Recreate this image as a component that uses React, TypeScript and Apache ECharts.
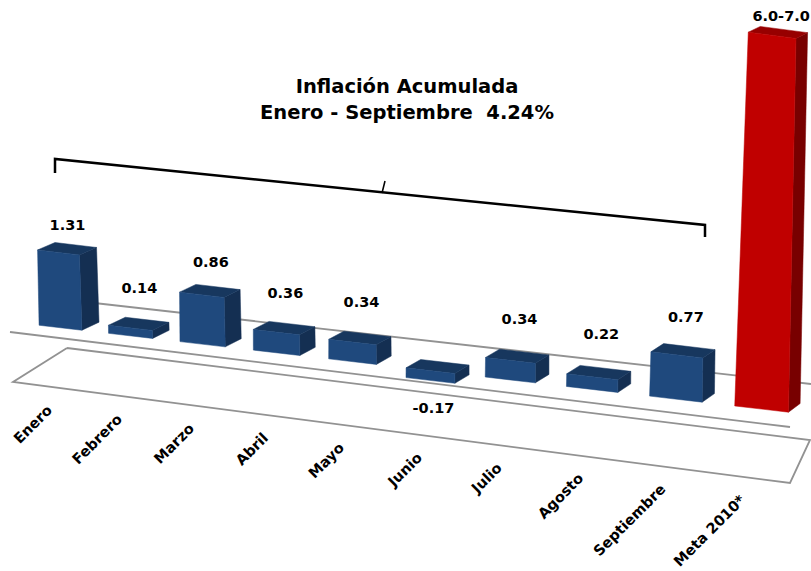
import React, { useEffect, useRef } from "react";
import * as echarts from "echarts";

// ---------- data ----------
const categories = [
  "Enero", "Febrero", "Marzo", "Abril", "Mayo",
  "Junio", "Julio", "Agosto", "Septiembre", "Meta 2010*",
];
const monthlyInflation = [1.31, 0.14, 0.86, 0.36, 0.34, -0.17, 0.34, 0.22, 0.77];
const targetRange = [6.0, 7.0];
const targetBarValue = 6.5; // bar height drawn for the target range
const barValues = [...monthlyInflation, targetBarValue];
const valueLabels = [
  ...monthlyInflation.map((v) => v.toFixed(2)),
  `${targetRange[0].toFixed(1)}-${targetRange[1].toFixed(1)}`,
];
const titleLines = ["Inflación Acumulada", "Enero - Septiembre  4.24%"];

// ---------- pseudo-3D projection settings ----------
const SKEW = 0.116;          // floor tilt
const CURVE = 79.2;          // perspective spacing curve
const VP = [2300, -715];     // depth vanishing point
const DEPTH = 0.0077;        // bar depth
const LEAN_X = 400;
const LEAN = 7.8e-5;
const TOP_SHRINK = 0.0003;
const WIDTH_RATIO = 0.62;

const FONT = '"DejaVu Sans", Verdana, sans-serif';
const BLUE = { front: "#1f497d", top: "#17375e", side: "#142f52" };
const RED = { front: "#c00000", top: "#970000", side: "#780000" };
const FLOOR = "#929292";

function renderItem(params: any, api: any) {
  const i = api.value(0);
  const v = api.value(1);
  const n = categories.length;
  const xA = api.coord([0, 0])[0];
  const xB = api.coord([n - 1, 0])[0];
  const span = xB - xA;
  const p0 = api.coord([i, 0]);
  const xl = p0[0];
  const y0l = p0[1];
  const yvl = api.coord([i, v])[1];
  const u = (xl - xA) / span;
  const xc = xl + CURVE * u * (u - 1);
  const band = api.size([1, 0])[0];
  const w = band * (1 + (CURVE * (2 * u - 1)) / span) * WIDTH_RATIO;
  const up = Math.min(y0l, yvl);
  const lo = Math.max(y0l, yvl);
  const h = lo - up;
  const sk = (x: number) => SKEW * (x - xA);
  const xL = xc - w / 2;
  const xR = xc + w / 2;
  const s = (xc - LEAN_X) * LEAN * h;
  const tw = w * (1 - TOP_SHRINK * h);
  const fbl = [xL, lo + sk(xL)];
  const fbr = [xR, lo + sk(xR)];
  const ftl = [xc + s - tw / 2, up + sk(xL)];
  const ftr = [xc + s + tw / 2, up + sk(xR)];
  const back = (p: number[]) => [
    p[0] + DEPTH * (VP[0] - p[0]),
    p[1] + DEPTH * (VP[1] - p[1]),
  ];
  const pal = i === n - 1 ? RED : BLUE;
  const zeroY = y0l + sk(xc);

  let lx: number, ly: number;
  if (v >= 0) {
    lx = xc + s + 9;
    ly = Math.min(zeroY - 41 - 0.82 * h - 0.008 * (xc - xA), up + sk(xc) - 19);
  } else {
    lx = xc + 3;
    ly = lo + sk(xc) + 28;
  }

  return {
    type: "group",
    children: [
      {
        type: "polygon",
        shape: { points: [ftr, fbr, back(fbr), back(ftr)] },
        style: { fill: pal.side, stroke: pal.side, lineWidth: 0.5 },
      },
      {
        type: "polygon",
        shape: { points: [ftl, ftr, back(ftr), back(ftl)] },
        style: { fill: pal.top, stroke: pal.top, lineWidth: 0.5 },
      },
      {
        type: "polygon",
        shape: { points: [fbl, fbr, ftr, ftl] },
        style: { fill: pal.front, stroke: pal.front, lineWidth: 0.5 },
      },
      {
        type: "text",
        x: lx,
        y: ly,
        style: {
          text: valueLabels[i],
          fill: "#000",
          fontFamily: FONT,
          fontWeight: "bold",
          fontSize: 14.5,
          align: "center",
          verticalAlign: "middle",
        },
      },
      {
        type: "text",
        x: xc - 11 - 8 * Math.pow(u, 12),
        y: zeroY + 80 + 0.012 * (xc - xA),
        rotation: Math.PI / 4,
        style: {
          text: categories[i],
          fill: "#000",
          fontFamily: FONT,
          fontWeight: "bold",
          fontSize: 14.5,
          align: "right",
          verticalAlign: "middle",
        },
      },
    ],
  };
}

export default function App() {
  const ref = useRef<HTMLDivElement>(null);
  useEffect(() => {
    if (!ref.current) return;
    const chart = echarts.init(ref.current, undefined, { renderer: "svg" });
    chart.setOption({
      animation: false,
      backgroundColor: "#ffffff",
      grid: { left: 21.55, width: 779, top: 0, height: 442.75 },
      xAxis: { type: "category", data: categories, show: false },
      yAxis: { type: "value", min: -2, max: 5.7, show: false, splitLine: { show: false } },
      graphic: [
        {
          type: "polyline",
          z: 0,
          shape: { points: [[50, 298], [811, 384]] },
          style: { stroke: FLOOR, lineWidth: 1.8, fill: null },
        },
        {
          type: "polyline",
          z: 0,
          shape: { points: [[10, 332], [790, 427]] },
          style: { stroke: FLOOR, lineWidth: 1.8, fill: null },
        },
        {
          type: "polyline",
          z: 0,
          shape: { points: [[67, 348], [810, 440], [790, 483], [13, 382], [67, 348]] },
          style: { stroke: FLOOR, lineWidth: 1.8, fill: null },
        },
        {
          type: "polyline",
          z: 0,
          shape: { points: [[55, 173], [55, 159], [705, 225], [705, 237]] },
          style: { stroke: "#000", lineWidth: 2.5, fill: null },
        },
        {
          type: "polyline",
          z: 0,
          shape: { points: [[382, 193], [385, 181]] },
          style: { stroke: "#000", lineWidth: 1.5, fill: null },
        },
        {
          type: "text",
          z: 0,
          x: 407,
          y: 86,
          style: {
            text: titleLines[0],
            fill: "#000",
            fontFamily: FONT,
            fontWeight: "bold",
            fontSize: 19.5,
            align: "center",
            verticalAlign: "middle",
          },
        },
        {
          type: "text",
          z: 0,
          x: 407,
          y: 112,
          style: {
            text: titleLines[1],
            fill: "#000",
            fontFamily: FONT,
            fontWeight: "bold",
            fontSize: 19.5,
            align: "center",
            verticalAlign: "middle",
          },
        },
      ],
      series: [
        {
          type: "custom",
          z: 10,
          renderItem,
          encode: { x: 0, y: 1 },
          data: barValues.map((v, i) => [i, v]),
        },
      ],
    });
    return () => chart.dispose();
  }, []);
  return (
    <div
      ref={ref}
      style={{ position: "fixed", left: 0, top: 0, width: 811, height: 571 }}
    />
  );
}
